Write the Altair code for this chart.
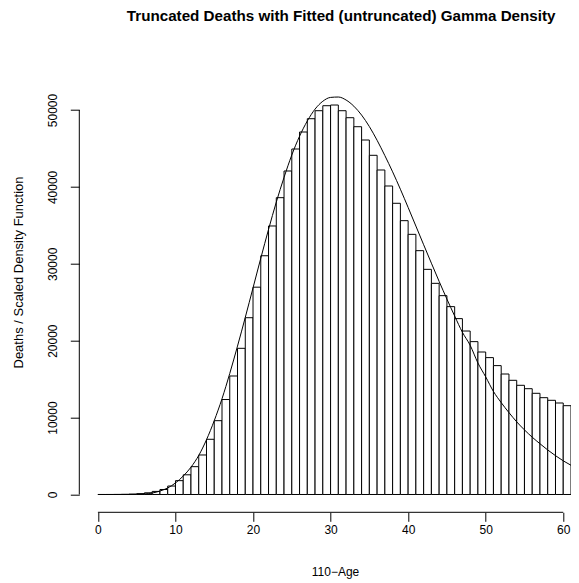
import altair as alt
import pandas as pd

# ---- data ----
bin_left = list(range(0, 61))          # bars cover [age, age+1)
deaths = [1, 3, 8, 20, 50, 110, 220, 400, 650, 1100,
          1800, 2560, 3620, 5140, 7180, 9600, 12350, 15410, 19010, 22990,
          26960, 31050, 34920, 38600, 42070, 44930, 47140, 48870, 49910, 50560,
          50650, 49910, 49000, 47830, 46100, 44110, 42200, 40120, 37870, 35610,
          33830, 31710, 29280, 27460, 25860, 24430, 22870, 21260, 19880, 18530,
          17800, 16760, 15670, 14850, 14200, 13760, 13160, 12590, 12250, 11900,
          11550]

curve_age = list(range(0, 62))
curve_density = [0, 0, 0, 2, 8, 25, 75, 190, 450, 850,
                 1500, 2400, 3550, 5080, 7120, 9600, 12450, 15740, 19300, 23030,
                 26870, 30720, 34470, 38020, 41240, 44150, 46590, 48570, 50120, 51140,
                 51640, 51690, 51300, 50500, 49340, 47850, 46060, 44070, 41960, 39700,
                 37330, 34910, 32480, 30080, 27710, 25410, 23210, 21090, 19400, 17100,
                 15300, 13400, 11950, 10650, 9450, 8400, 7450, 6600, 5790, 5050,
                 4380, 3800]

x_ticks = [0, 10, 20, 30, 40, 50, 60]
y_ticks = [0, 10000, 20000, 30000, 40000, 50000]

x_domain = [-2.4, 61]
y_domain = [-2315, 60185]

bars_df = pd.DataFrame({
    "left": bin_left,
    "right": [b + 1 for b in bin_left],
    "deaths": deaths,
    "base": [0] * len(deaths),
})
curve_df = pd.DataFrame({"age": curve_age, "density": curve_density})
axis_df = pd.DataFrame({"x0": [x_ticks[0]], "x1": [x_ticks[-1]],
                        "y0": [y_ticks[0]], "y1": [y_ticks[-1]]})

FONT = "Liberation Sans"
W, H = 491.7, 480.6

xs = alt.Scale(domain=x_domain, nice=False, zero=False)
ys = alt.Scale(domain=y_domain, nice=False, zero=False)

x_axis = alt.Axis(values=x_ticks, domain=False, grid=False, ticks=True,
                  tickSize=9, tickColor="black", tickWidth=1,
                  labelFont=FONT, labelFontSize=12, labelColor="black",
                  labelBaseline="alphabetic", labelPadding=12,
                  labelFlush=False, labelOverlap=False, format="d",
                  title="110\u2212Age", titleFont=FONT, titleFontSize=12,
                  titleFontWeight="normal", titleColor="black",
                  titleAlign="center", titleBaseline="alphabetic",
                  titleX=255.7, titleY=63.6)

y_axis = alt.Axis(values=y_ticks, domain=False, grid=False, ticks=True,
                  tickSize=9, tickColor="black", tickWidth=1,
                  labelFont=FONT, labelFontSize=12, labelColor="black",
                  labelAngle=270, labelAlign="center",
                  labelBaseline="alphabetic", labelPadding=14,
                  labelFlush=False, labelOverlap=False, format="d",
                  title="Deaths / Scaled Density Function", titleFont=FONT,
                  titleFontSize=13, titleFontWeight="normal",
                  titleColor="black", titleAngle=270, titleAlign="center",
                  titleBaseline="alphabetic", titleX=-56.7, titleY=240.3)

bars = alt.Chart(bars_df).mark_rect(
    fill="white", stroke="black", strokeWidth=1
).encode(
    x=alt.X("left:Q", scale=xs, axis=x_axis),
    x2="right:Q",
    y=alt.Y("deaths:Q", scale=ys, axis=y_axis),
    y2="base:Q",
)

curve = alt.Chart(curve_df).mark_line(
    color="black", strokeWidth=1, interpolate="monotone"
).encode(
    x=alt.X("age:Q", scale=xs, axis=x_axis),
    y=alt.Y("density:Q", scale=ys, axis=y_axis),
)

x_line = alt.Chart(axis_df).mark_rule(color="black", strokeWidth=1).encode(
    x=alt.X("x0:Q", scale=xs, axis=x_axis),
    x2="x1:Q",
    y=alt.value(H),
)

y_line = alt.Chart(axis_df).mark_rule(color="black", strokeWidth=1).encode(
    y=alt.Y("y0:Q", scale=ys, axis=y_axis),
    y2="y1:Q",
    x=alt.value(0),
)

chart = alt.layer(bars, curve, x_line, y_line).properties(
    width=W,
    height=H,
    title=alt.TitleParams(
        text="Truncated Deaths with Fitted (untruncated) Gamma Density",
        font=FONT, fontSize=15.2, fontWeight="bold", color="black",
        anchor="middle", baseline="alphabetic", offset=10.7, dx=16, dy=15.5,
        frame="group",
    ),
    autosize=alt.AutoSizeParams(type="none"),
    padding={"left": 71.3, "top": 23.7, "right": 0, "bottom": 70},
    background="white",
).configure_view(stroke=None)

chart.save("out.html", embed_options={"renderer": "svg", "actions": False})
